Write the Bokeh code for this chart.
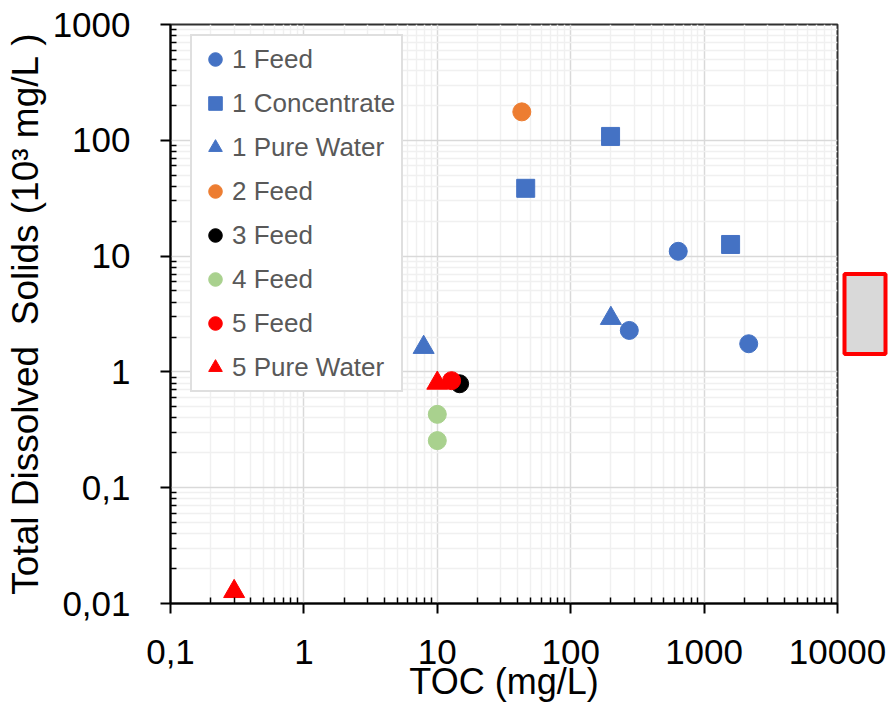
from bokeh.plotting import figure
from bokeh.models import FixedTicker, Legend, LegendItem, Title
from bokeh.embed import file_html
from bokeh.resources import INLINE

# ---- data ----
feed1_toc = [640, 275, 2160]
feed1_tds = [11.0, 2.28, 1.75]
conc1_toc = [199, 46, 1580]
conc1_tds = [108, 38.5, 12.6]
pure1_toc = [200, 7.9]
pure1_tds = [2.9, 1.63]
feed2_toc = [43]
feed2_tds = [176]
feed3_toc = [14.7]
feed3_tds = [0.79]
feed4_toc = [10, 10]
feed4_tds = [0.43, 0.255]
feed5_toc = [12.8]
feed5_tds = [0.84]
pure5_toc = [10, 0.3]
pure5_tds = [0.8, 0.0127]

series_names = ["1 Feed", "1 Concentrate", "1 Pure Water", "2 Feed",
                "3 Feed", "4 Feed", "5 Feed", "5 Pure Water"]

x_tick_values = [0.1, 1, 10, 100, 1000, 10000]
x_tick_labels = ["0,1", "1", "10", "100", "1000", "10000"]
y_tick_values = [0.01, 0.1, 1, 10, 100, 1000]
y_tick_labels = ["0,01", "0,1", "1", "10", "100", "1000"]

BLUE = "#4472C4"
ORANGE = "#ED7D31"
GREEN = "#A9D18E"
RED = "#FF0000"
BLACK = "#000000"
FONT = "Liberation Sans"

p = figure(width=894, height=723, x_axis_type="log", y_axis_type="log",
           x_range=(0.1, 10000), y_range=(0.01, 1000),
           output_backend="svg", toolbar_location=None,
           min_border_left=170, min_border_right=56, min_border_top=24, min_border_bottom=120)
p.background_fill_color = "white"
p.border_fill_color = "white"
p.outline_line_color = "#303030"
p.outline_line_width = 2

def minors(lo_exp, hi_exp):
    out = []
    for e in range(lo_exp, hi_exp):
        for m in range(2, 10):
            out.append(m * 10.0 ** e)
    return out

p.xaxis.ticker = FixedTicker(ticks=x_tick_values, minor_ticks=minors(-1, 4))
p.yaxis.ticker = FixedTicker(ticks=y_tick_values, minor_ticks=minors(-2, 3))
p.xaxis.major_label_overrides = dict(zip(x_tick_values, x_tick_labels))
p.yaxis.major_label_overrides = dict(zip(y_tick_values, y_tick_labels))

for ax in (p.xaxis, p.yaxis):
    ax.axis_line_color = "black"
    ax.axis_line_width = 2
    ax.major_tick_line_color = "black"
    ax.major_tick_line_width = 2
    ax.minor_tick_line_color = "black"
    ax.minor_tick_line_width = 1.5
    ax.major_tick_in = 0
    ax.major_tick_out = 10
    ax.minor_tick_in = 6
    ax.minor_tick_out = 0
    ax.major_label_text_font = FONT
    ax.major_label_text_font_size = "35px"
    ax.major_label_text_color = "black"
    ax.axis_label_text_font = FONT
    ax.axis_label_text_font_style = "normal"
    ax.axis_label_text_color = "black"

p.xaxis.axis_label = "TOC (mg/L)"
p.yaxis.axis_label = "Total Dissolved\u00a0\u00a0Solids (10³ mg/L\u00a0)"
p.xaxis.axis_label_text_font_size = "36px"
p.yaxis.axis_label_text_font_size = "37px"
p.xaxis.major_label_standoff = 26
p.yaxis.major_label_standoff = 30
p.xaxis.axis_label_standoff = -6
p.yaxis.axis_label_standoff = 4

for g in (p.xgrid, p.ygrid):
    g.grid_line_color = "#D9D9D9"
    g.grid_line_width = 1.5
    g.minor_grid_line_color = "#F0F0F0"
    g.minor_grid_line_width = 1.5

S = 18
T = 21
r1 = p.scatter(feed1_toc, feed1_tds, marker="circle", size=S, color=BLUE)
r2 = p.scatter(conc1_toc, conc1_tds, marker="square", size=S, color=BLUE)
r3 = p.scatter(pure1_toc, pure1_tds, marker="triangle", size=T, color=BLUE)
r4 = p.scatter(feed2_toc, feed2_tds, marker="circle", size=S, color=ORANGE)
r8 = p.scatter(pure5_toc, pure5_tds, marker="triangle", size=T, color=RED)
r5 = p.scatter(feed3_toc, feed3_tds, marker="circle", size=S, color=BLACK)
r7 = p.scatter(feed5_toc, feed5_tds, marker="circle", size=S, color=RED)
r6 = p.scatter(feed4_toc, feed4_tds, marker="circle", size=S, color=GREEN)

renderers = [r1, r2, r3, r4, r5, r6, r7, r8]
legend = Legend(items=[LegendItem(label=n, renderers=[r]) for n, r in zip(series_names, renderers)],
                location=(20, 211))
legend.margin = 0
legend.padding = 6
legend.spacing = 10
legend.glyph_width = 34
legend.glyph_height = 34
legend.label_standoff = 0
legend.label_text_font = FONT
legend.label_text_font_size = "26px"
legend.label_text_color = "#595959"
legend.border_line_color = "#BFBFBF"
legend.border_line_width = 2
legend.background_fill_alpha = 1
p.add_layout(legend)

# red framed grey box at the right edge of the picture
box = Title(text="\u00a0" * 8, align="center", vertical_align="bottom",
            text_font_size="36px", standoff=14, offset=0,
            background_fill_color="#D9D9D9", background_fill_alpha=1,
            border_line_color=RED, border_line_width=4)
p.add_layout(box, "right")

open("out.html", "w").write(file_html(p, INLINE))
